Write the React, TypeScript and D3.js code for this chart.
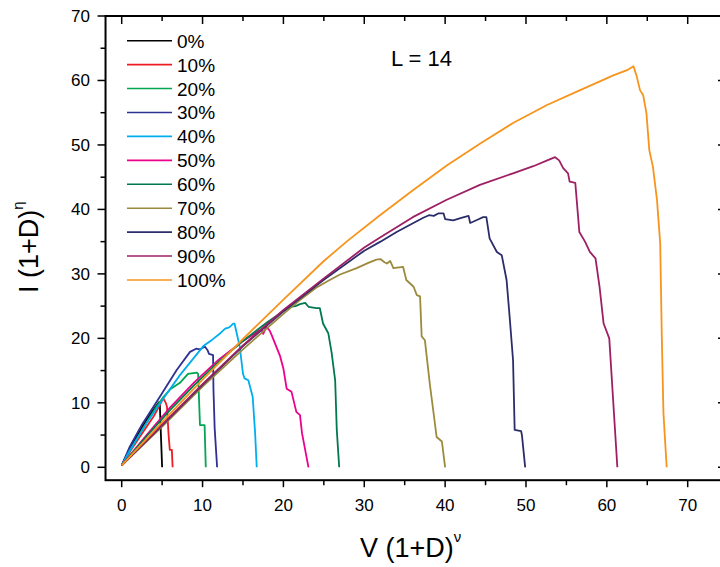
import React from "react";
import * as d3 from "d3";

type Pt = [number, number];

const labels = ["0%", "10%", "20%", "30%", "40%", "50%", "60%", "70%", "80%", "90%", "100%"];
const colors = ["#000000", "#ED1C24", "#00A651", "#2E3192", "#00AEEF", "#EC008C", "#007A4D", "#9C8A3C", "#2B2D6B", "#9E2064", "#F7941D"];

const s0: Pt[] = [[0,0.3],[1,2.8],[2.5,6.2],[3.8,8.7],[4.6,10.1],[4.72,9.6],[4.85,5],[5.0,0]];
const s10: Pt[] = [[0,0.3],[1,2.4],[2.5,5.2],[4,8.0],[5.15,10.7],[5.45,10.0],[5.6,9.4],[5.8,5],[5.95,2.7],[6.2,2.7],[6.3,0]];
const s20: Pt[] = [[0,0.3],[1.5,3.6],[3,6.8],[4.4,9.6],[5.15,10.9],[6,12.1],[7.2,13.1],[8.2,14.5],[9.27,14.7],[9.45,14.5],[9.55,11],[9.68,6.55],[10.25,6.55],[10.4,0]];
const s30: Pt[] = [[0,0.3],[1,3.2],[2.5,6.6],[4.7,10.9],[6.8,15.1],[8.45,17.9],[9.2,18.4],[9.68,18.3],[10.3,18.7],[10.6,18.2],[10.8,17.6],[11.3,17.4],[11.35,12],[11.5,6],[11.8,0]];
const s40: Pt[] = [[0,0.3],[1,2.6],[3,6.7],[5,10.4],[7.2,14.3],[10.1,18.8],[11.2,19.8],[12.2,20.8],[12.8,21.5],[13.3,21.7],[13.8,22.3],[13.95,22.3],[14.6,18.7],[15.0,14.5],[15.2,13.8],[15.66,13.5],[16.2,10.95],[16.5,5.3],[16.7,0]];
const s50: Pt[] = [[0,0.3],[3,4.9],[6,9.3],[9,13.2],[12,16.7],[15,19.6],[17.0,21.2],[17.3,21.3],[17.5,20.7],[17.9,21.8],[18.3,21.2],[18.55,20.5],[19.6,17.2],[20.0,15.3],[20.4,12.2],[21,11.7],[21.6,8.6],[22.05,8.1],[22.3,5.3],[23.1,0]];
const s60: Pt[] = [[0,0.3],[3,4.7],[6,8.9],[9,12.8],[12,16.4],[15,19.6],[18,22.5],[20.8,24.9],[21.5,25.0],[22.05,25.3],[22.7,25.5],[23.1,24.9],[24.1,24.7],[24.5,24.7],[24.9,22.3],[25.55,20.8],[25.97,17.7],[26.4,13.5],[26.6,5.8],[26.9,0]];
const s70: Pt[] = [[0,0.3],[5,6.3],[10,12.5],[15,18.3],[20,23.8],[22,25.9],[24,27.8],[25.5,28.9],[27,29.9],[29.06,30.9],[30.5,31.7],[31.5,32.2],[32,32.3],[32.5,31.8],[32.8,31.6],[33.2,32.0],[33.6,30.9],[34.8,31.1],[35.2,29.05],[36.1,28],[36.5,26.7],[36.9,26.5],[37.1,20.3],[37.5,19.7],[38.1,13.0],[38.95,4.7],[39.6,4.0],[40,0]];
const s80: Pt[] = [[0,0.3],[5,6.5],[10,12.8],[15,18.8],[20,24.2],[25,29.1],[30,33.6],[32,35.0],[34,36.5],[35.5,37.5],[37.3,38.7],[38,39.1],[38.6,39.0],[39.2,39.4],[39.8,39.4],[40,38.5],[41,38.3],[42,38.7],[42.9,39.0],[43.1,37.9],[44,38.4],[44.7,38.8],[45.1,38.8],[45.5,35.5],[46.4,33.4],[47,32.9],[47.6,29.05],[48,23],[48.4,16.6],[48.6,5.8],[49.4,5.6],[49.5,5.0],[49.9,0]];
const s90: Pt[] = [[0,0.3],[5,6.6],[10,12.9],[15,18.9],[20,24.4],[25,29.3],[30,34.1],[32,35.7],[36,38.8],[40.2,41.5],[44.3,43.8],[48.4,45.6],[50.9,46.7],[53.0,47.8],[53.6,48.1],[54.1,47.6],[54.6,46.4],[55.2,45.6],[55.4,44.3],[56.1,44.1],[56.6,36.5],[57.3,35],[57.9,33.4],[58.6,32.4],[59.1,28],[59.6,22.3],[60.3,20],[60.7,12],[61.3,0]];
const s100: Pt[] = [[0,0.3],[5,7.0],[10,13.6],[15,19.9],[20,26.0],[25,32.0],[28,35.2],[31.94,39.1],[36.06,43.0],[40.2,46.8],[44.3,50.2],[48.4,53.4],[52.6,56.2],[56.7,58.5],[60.8,60.8],[62.5,61.6],[63.3,62.2],[63.7,60.6],[64.1,58.5],[64.5,57.7],[64.9,54.9],[65.25,49.2],[65.7,46.6],[66.2,41.5],[66.6,34.7],[66.8,20],[67.0,8.4],[67.4,0]];

const series: Pt[][] = [s0, s10, s20, s30, s40, s50, s60, s70, s80, s90, s100];

const xMajor = [0, 10, 20, 30, 40, 50, 60, 70];
const yMajor = [0, 10, 20, 30, 40, 50, 60, 70];

const FONT = "Arial, 'Liberation Sans', sans-serif";

export default function App() {
  const x = d3.scaleLinear().domain([0, 70]).range([121.7, 687.7]);
  const y = d3.scaleLinear().domain([0, 70]).range([467.3, 16]);
  const left = x(-2);
  const right = x(74.8);
  const top = y(70);
  const bottom = y(-2);
  const line = d3.line<Pt>().x(d => x(d[0])).y(d => y(d[1]));
  const xMinor = d3.range(-0, 75, 5).filter(v => v % 10 !== 0);
  const yMinor = d3.range(5, 70, 10);

  return (
    <svg width={720} height={567} style={{ position: "absolute", left: 0, top: 0, background: "#fff" }} fontFamily={FONT}>
      <rect x={0} y={0} width={720} height={567} fill="#fff" />
      {series.map((s, i) => (
        <path key={i} d={line(s) || ""} fill="none" stroke={colors[i]} strokeWidth={1.8} strokeLinejoin="round" />
      ))}
      <rect x={left} y={top} width={right - left} height={bottom - top} fill="none" stroke="#000" strokeWidth={2} />
      {xMajor.map(v => (
        <g key={"xm" + v}>
          <line x1={x(v)} x2={x(v)} y1={bottom} y2={bottom + 7} stroke="#000" strokeWidth={1.5} />
          <line x1={x(v)} x2={x(v)} y1={top} y2={top + 8} stroke="#000" strokeWidth={1.5} />
          <text x={x(v)} y={511} fontSize={17} textAnchor="middle" fill="#000">{v}</text>
        </g>
      ))}
      {xMinor.map(v => (
        <g key={"xn" + v}>
          <line x1={x(v)} x2={x(v)} y1={bottom} y2={bottom + 5} stroke="#000" strokeWidth={1.5} />
          <line x1={x(v)} x2={x(v)} y1={top} y2={top + 5} stroke="#000" strokeWidth={1.5} />
        </g>
      ))}
      {yMajor.map(v => (
        <g key={"ym" + v}>
          <line x1={left} x2={left - 8} y1={y(v)} y2={y(v)} stroke="#000" strokeWidth={1.5} />
          <line x1={right} x2={right - 8.5} y1={y(v)} y2={y(v)} stroke="#000" strokeWidth={1.5} />
          <text x={90} y={y(v) + 6} fontSize={17} textAnchor="end" fill="#000">{v}</text>
        </g>
      ))}
      {yMinor.map(v => (
        <g key={"yn" + v}>
          <line x1={left} x2={left - 5} y1={y(v)} y2={y(v)} stroke="#000" strokeWidth={1.5} />
          <line x1={right} x2={right - 5} y1={y(v)} y2={y(v)} stroke="#000" strokeWidth={1.5} />
        </g>
      ))}
      {labels.map((l, i) => {
        const ly = 40.7 + i * 23.93;
        return (
          <g key={"lg" + i}>
            <line x1={127} x2={172} y1={ly} y2={ly} stroke={colors[i]} strokeWidth={1.6} />
            <text x={177} y={ly + 7} fontSize={19} fill="#000">{l}</text>
          </g>
        );
      })}
      <text x={391} y={66} fontSize={22} fill="#000">L = 14</text>
      <text x={360} y={557} fontSize={27} fill="#000">
        V (1+D)<tspan fontSize={15} dy={-15}>ν</tspan>
      </text>
      <text transform="translate(38,293) rotate(-90)" fontSize={27} fill="#000">
        I (1+D)<tspan fontSize={15} dy={-15}>η</tspan>
      </text>
    </svg>
  );
}
